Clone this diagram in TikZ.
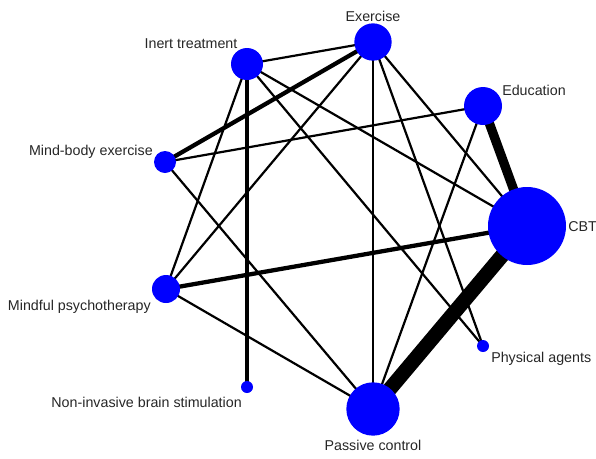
\documentclass[tikz,border=0pt]{standalone}
\usepackage{fontspec}
\setmainfont{Liberation Sans}
\usetikzlibrary{positioning, backgrounds}

\begin{document}
\begin{tikzpicture}[
    x=0.75pt, y=-0.75pt,
    font=\fontsize{10.7}{12}\selectfont,
    trt/.style={
        circle, fill=blue, draw=none, inner sep=0pt, minimum size=#1
    },
    lbl/.style={
        inner sep=0pt, text=black!85, text height=0.72em, text depth=0pt
    },
    link/.style={
        draw=black, line width=#1, line cap=butt
    },
    link/.default=1.65pt
]
\useasboundingbox (0,0) rectangle (596,458);

% --- treatments (circle size ~ sample size) ---
\node[trt=28pt] (ex)   at (373,42)  {};
\node[trt=24pt] (inert) at (247,64) {};
\node[trt=28.5pt] (edu) at (483,106) {};
\node[trt=16.5pt] (mbe) at (165,162) {};
\node[trt=58.5pt] (cbt) at (527,226) {};
\node[trt=21pt] (mind) at (166,289) {};
\node[trt=9pt]  (phys) at (483,346) {};
\node[trt=9pt]  (nibs) at (247,387) {};
\node[trt=40pt] (pc)   at (373,409) {};

% --- labels ---
\node[lbl] (ex-l)    at (373,17) {Exercise};
\node[lbl] (inert-l) at (191,44) {Inert treatment};
\node[lbl, anchor=west] (edu-l)  at (502,91)  {Education};
\node[lbl, anchor=east] (mbe-l)  at (153,151) {Mind-body exercise};
\node[lbl, anchor=west] (cbt-l)  at (568,227) {CBT};
\node[lbl, anchor=east] (mind-l) at (151,306) {Mindful psychotherapy};
\node[lbl, anchor=west] (phys-l) at (491,358) {Physical agents};
\node[lbl, anchor=east] (nibs-l) at (242,403) {Non-invasive brain stimulation};
\node[lbl] (pc-l)    at (373,446) {Passive control};

% --- comparisons (width ~ number of trials) ---
\begin{scope}[on background layer]
    \draw[link] (ex.center) -- (inert.center);
    \draw[link=3.2pt] (ex.center) -- (mbe.center);
    \draw[link] (ex.center) -- (mind.center);
    \draw[link] (ex.center) -- (pc.center);
    \draw[link] (ex.center) -- (cbt.center);
    \draw[link] (ex.center) -- (phys.center);
    \draw[link=3.2pt] (inert.center) -- (nibs.center);
    \draw[link] (inert.center) -- (mind.center);
    \draw[link] (inert.center) -- (cbt.center);
    \draw[link] (inert.center) -- (phys.center);
    \draw[link] (mbe.center) -- (edu.center);
    \draw[link] (mbe.center) -- (pc.center);
    \draw[link=3.2pt] (mind.center) -- (cbt.center);
    \draw[link] (mind.center) -- (pc.center);
    \draw[link=7pt] (edu.center) -- (cbt.center);
    \draw[link] (edu.center) -- (pc.center);
    \draw[link=11pt] (cbt.center) -- (pc.center);
\end{scope}

\end{tikzpicture}
\end{document}
